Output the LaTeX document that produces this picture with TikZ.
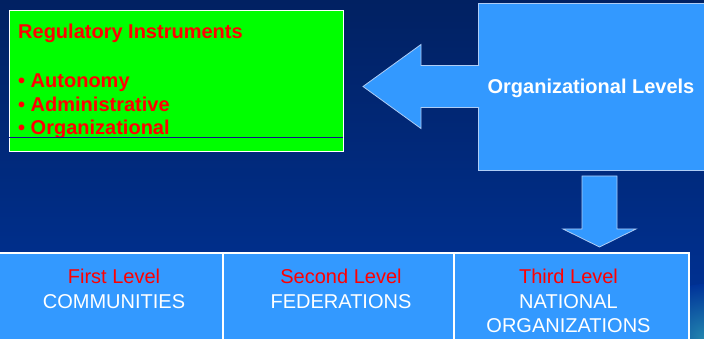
\documentclass[tikz,border=0pt]{standalone}
\usepackage{fontspec}
\setmainfont{Liberation Sans}
\usepackage{tikz}
\usetikzlibrary{positioning}
\definecolor{navytop}{RGB}{1,33,98}
\definecolor{navybot}{RGB}{0,51,153}
\definecolor{skyblue}{RGB}{51,153,255}
\definecolor{limegreen}{RGB}{0,255,0}
\definecolor{redtext}{RGB}{255,0,0}
\definecolor{edgeblue}{RGB}{175,205,245}
\definecolor{glow}{RGB}{35,135,175}
\definecolor{navyline}{RGB}{20,20,140}
\tikzstyle{greenbox} = [rectangle, draw=white, line width=0.8pt, fill=limegreen, inner sep=0pt, outer sep=0pt, anchor=north west]
\tikzstyle{bluebox} = [rectangle, draw=edgeblue, line width=0.8pt, fill=skyblue, inner sep=0pt, outer sep=0pt, anchor=north west]
\tikzstyle{levelbox} = [rectangle, draw=white, line width=1.2pt, fill=skyblue, inner sep=0pt, outer sep=0pt, anchor=north west]
\tikzstyle{redbold} = [text=redtext, font=\fontsize{20}{24}\selectfont\bfseries, inner sep=0pt, anchor=base west]
\tikzstyle{whitebold} = [text=white, font=\fontsize{20}{24}\selectfont\bfseries, inner sep=0pt, anchor=base]
\tikzstyle{redplain} = [text=redtext, font=\fontsize{20}{24}\selectfont, inner sep=0pt, anchor=base]
\tikzstyle{whiteplain} = [text=white, font=\fontsize{20}{24}\selectfont, inner sep=0pt, anchor=base]
\tikzstyle{blockarrow} = [draw=edgeblue, line width=0.8pt, fill=skyblue, line join=miter]
\begin{document}
\begin{tikzpicture}[x=1pt, y=-1pt]
\useasboundingbox (0,0) rectangle (704,339);
\shade[top color=navytop, bottom color=navybot] (0,0) rectangle (704,339);
\shade[inner color=glow, outer color=navybot] (704,339) circle (55pt);

% regulatory instruments
\node (regbox) [greenbox, minimum width=334pt, minimum height=141pt] at (9,10) {};
\node (regtitle) [redbold] at (18,39) {Regulatory Instruments};
\node (autonomy) [redbold] at (18,88) {• Autonomy};
\node (admin) [redbold] at (18,112) {• Administrative};
\node (organiz) [redbold] at (18,135) {• Organizational};
\draw [navyline, line width=0.8pt] ([yshift=-127pt]regbox.north west) -- ([yshift=-127pt]regbox.north east);

% organizational levels
\node (levels) [bluebox, minimum width=243pt, minimum height=167pt] at (478,3) {};
\node (levelstext) [whitebold] at (591,94) {Organizational Levels};
\path [blockarrow] ([shift={(1,-21)}]levels.west) -- ++(-58,0) -- ++(0,-21) -- ++(-58,42) -- ++(58,42) -- ++(0,-21) -- ++(58,0);
\draw [blockarrow] ([shift={(-17.5,6)}]levels.south) -- ++(35,0) -- ++(0,53) -- ++(19,0) -- ++(-36.5,18) -- ++(-36.5,-18) -- ++(19,0) -- cycle;

% levels
\node (first) [levelbox, minimum width=226pt, minimum height=100pt] at (-3,253) {};
\node (second) [levelbox, minimum width=231pt, minimum height=100pt, right=0pt of first] {};
\node (third) [levelbox, minimum width=235pt, minimum height=100pt, right=0pt of second] {};
\node (firstred) [redplain] at (114,283) {First Level};
\node (firstwhite) [whiteplain] at (114,308) {COMMUNITIES};
\node (secondred) [redplain] at (341,283) {Second Level};
\node (secondwhite) [whiteplain] at (341,308) {FEDERATIONS};
\node (thirdred) [redplain] at (568.5,283) {Third Level};
\node (thirdwhite) [whiteplain] at (568.5,308) {NATIONAL};
\node (thirdwhitetwo) [whiteplain] at (568.5,332) {ORGANIZATIONS};
\end{tikzpicture}
\end{document}
